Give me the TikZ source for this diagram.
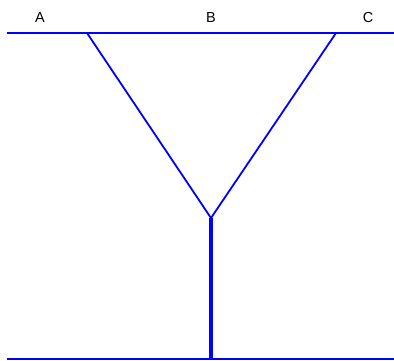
\documentclass[tikz,border=0pt]{standalone}
\usepackage{fontspec}
\setmainfont{Liberation Sans}
\begin{document}
\begin{tikzpicture}[x=1pt,y=-1pt,
  wire/.style={draw=blue,line width=1.8pt},
  stem/.style={draw=blue,line width=4pt},
  lbl/.style={font=\fontsize{14.5}{16}\selectfont,inner sep=0pt,anchor=base}]
\useasboundingbox (0,0) rectangle (394,361);
\coordinate (tl) at (7,33);
\coordinate (tr) at (394,33);
\coordinate (pa) at (87,33);
\coordinate (pc) at (336,33);
\coordinate (v) at (211,218);
\coordinate (bs) at (211,359);
\coordinate (bl) at (7,359);
\coordinate (br) at (394,359);
\node[lbl] (A) at (40,23) {A};
\node[lbl] (B) at (211,23) {B};
\node[lbl] (C) at (368,23) {C};
\draw[wire] (tl) -- (tr);
\draw[wire] (pa) -- (v) -- (pc);
\draw[stem] (v) -- (bs);
\draw[wire] (bl) -- (br);
\end{tikzpicture}
\end{document}
